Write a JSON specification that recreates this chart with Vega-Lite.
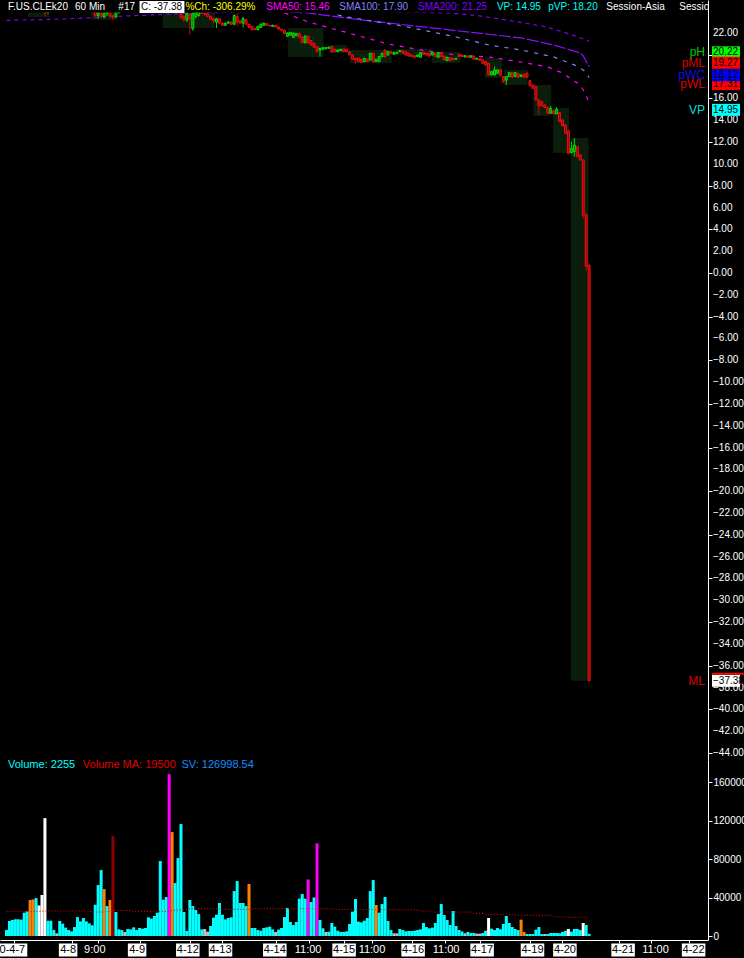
{
"$schema": "https://vega.github.io/schema/vega-lite/v6.json",
"background": "#000000",
"padding": 0,
"spacing": 0,
"bounds": "flush",
"config": {"view": {"stroke": null}, "font": "Liberation Sans", "axis": {"labelFont": "Liberation Sans", "grid": false, "labelOverlap": false, "labelSeparation": 0}},
"resolve": {"scale": {"x": "independent", "y": "independent", "fill": "independent", "color": "independent", "stroke": "independent", "strokeDash": "independent"}},
"datasets": {
"bars": [
{"i":0,"o":24.30,"h":24.50,"l":24.22,"c":24.42,"v":6200,"s":"n"},
{"i":1,"o":24.42,"h":24.55,"l":24.30,"c":24.35,"v":15600,"s":"n"},
{"i":2,"o":24.35,"h":24.48,"l":24.25,"c":24.45,"v":16600,"s":"n"},
{"i":3,"o":24.45,"h":24.60,"l":24.38,"c":24.52,"v":17300,"s":"n"},
{"i":4,"o":24.52,"h":24.62,"l":24.40,"c":24.44,"v":17300,"s":"n"},
{"i":5,"o":24.44,"h":24.50,"l":24.30,"c":24.34,"v":17000,"s":"n"},
{"i":6,"o":24.34,"h":24.40,"l":24.05,"c":24.12,"v":24200,"s":"n"},
{"i":7,"o":24.12,"h":24.25,"l":23.95,"c":24.20,"v":25600,"s":"n"},
{"i":8,"o":24.20,"h":24.35,"l":24.10,"c":24.30,"v":37400,"s":"o"},
{"i":9,"o":24.30,"h":24.40,"l":24.15,"c":24.18,"v":38000,"s":"o"},
{"i":10,"o":24.18,"h":24.28,"l":24.05,"c":24.25,"v":39400,"s":"n"},
{"i":11,"o":24.25,"h":24.45,"l":24.20,"c":24.40,"v":31800,"s":"w"},
{"i":12,"o":24.40,"h":24.52,"l":24.10,"c":24.15,"v":42600,"s":"w"},
{"i":13,"o":24.15,"h":24.20,"l":23.50,"c":23.85,"v":122500,"s":"w"},
{"i":14,"o":23.85,"h":24.20,"l":23.80,"c":24.10,"v":15900,"s":"n"},
{"i":15,"o":24.10,"h":24.30,"l":24.05,"c":24.25,"v":15900,"s":"n"},
{"i":16,"o":24.25,"h":24.35,"l":24.15,"c":24.30,"v":6200,"s":"n"},
{"i":17,"o":24.30,"h":24.38,"l":24.22,"c":24.28,"v":2800,"s":"g"},
{"i":18,"o":24.28,"h":24.45,"l":24.20,"c":24.40,"v":15600,"s":"n"},
{"i":19,"o":24.40,"h":24.55,"l":24.35,"c":24.50,"v":12800,"s":"n"},
{"i":20,"o":24.50,"h":24.60,"l":24.40,"c":24.45,"v":8700,"s":"n"},
{"i":21,"o":24.45,"h":24.52,"l":24.30,"c":24.36,"v":6200,"s":"n"},
{"i":22,"o":24.36,"h":24.45,"l":24.28,"c":24.40,"v":4800,"s":"n"},
{"i":23,"o":24.40,"h":24.48,"l":24.30,"c":24.33,"v":9300,"s":"n"},
{"i":24,"o":24.33,"h":24.40,"l":24.15,"c":24.20,"v":19700,"s":"n"},
{"i":25,"o":24.20,"h":24.32,"l":24.10,"c":24.28,"v":15200,"s":"n"},
{"i":26,"o":24.28,"h":24.35,"l":24.12,"c":24.16,"v":18700,"s":"n"},
{"i":27,"o":24.16,"h":24.25,"l":24.00,"c":24.05,"v":15200,"s":"n"},
{"i":28,"o":24.05,"h":24.15,"l":23.90,"c":24.10,"v":13100,"s":"n"},
{"i":29,"o":24.10,"h":24.20,"l":23.85,"c":23.95,"v":11100,"s":"n"},
{"i":30,"o":23.95,"h":24.05,"l":23.45,"c":23.60,"v":32500,"s":"n"},
{"i":31,"o":23.60,"h":23.95,"l":23.30,"c":23.85,"v":52900,"s":"n"},
{"i":32,"o":23.85,"h":24.10,"l":23.40,"c":23.50,"v":68500,"s":"n"},
{"i":33,"o":23.50,"h":23.90,"l":23.35,"c":23.80,"v":48800,"s":"o"},
{"i":34,"o":23.80,"h":24.00,"l":23.55,"c":23.95,"v":31100,"s":"n"},
{"i":35,"o":23.95,"h":24.05,"l":23.40,"c":23.55,"v":37400,"s":"o"},
{"i":36,"o":23.55,"h":23.70,"l":23.20,"c":23.45,"v":103800,"s":"r"},
{"i":37,"o":23.45,"h":23.90,"l":23.40,"c":23.85,"v":24900,"s":"n"},
{"i":38,"o":23.85,"h":24.10,"l":23.80,"c":24.05,"v":6900,"s":"n"},
{"i":39,"o":24.05,"h":24.20,"l":23.95,"c":24.15,"v":6200,"s":"n"},
{"i":40,"o":24.15,"h":24.25,"l":24.05,"c":24.10,"v":4200,"s":"g"},
{"i":41,"o":24.10,"h":24.30,"l":24.05,"c":24.25,"v":7300,"s":"n"},
{"i":42,"o":24.25,"h":24.40,"l":24.20,"c":24.35,"v":6900,"s":"n"},
{"i":43,"o":24.35,"h":24.45,"l":24.25,"c":24.30,"v":9000,"s":"n"},
{"i":44,"o":24.30,"h":24.42,"l":24.22,"c":24.38,"v":6200,"s":"n"},
{"i":45,"o":24.38,"h":24.50,"l":24.30,"c":24.45,"v":8300,"s":"n"},
{"i":46,"o":24.45,"h":24.55,"l":24.35,"c":24.40,"v":7600,"s":"n"},
{"i":47,"o":24.40,"h":24.48,"l":24.30,"c":24.35,"v":8300,"s":"n"},
{"i":48,"o":24.35,"h":24.45,"l":24.25,"c":24.42,"v":19400,"s":"n"},
{"i":49,"o":24.42,"h":24.60,"l":24.38,"c":24.55,"v":18000,"s":"n"},
{"i":50,"o":24.55,"h":24.70,"l":24.45,"c":24.50,"v":20800,"s":"n"},
{"i":51,"o":24.50,"h":24.58,"l":24.30,"c":24.35,"v":24200,"s":"n"},
{"i":52,"o":24.35,"h":24.50,"l":24.10,"c":24.45,"v":77900,"s":"n"},
{"i":53,"o":24.45,"h":24.62,"l":24.40,"c":24.58,"v":37700,"s":"n"},
{"i":54,"o":24.58,"h":24.70,"l":24.40,"c":24.48,"v":40500,"s":"n"},
{"i":55,"o":24.48,"h":24.75,"l":24.20,"c":24.65,"v":168200,"s":"m"},
{"i":56,"o":24.65,"h":24.80,"l":24.30,"c":24.40,"v":108000,"s":"o"},
{"i":57,"o":24.40,"h":24.55,"l":24.15,"c":24.20,"v":55000,"s":"n"},
{"i":58,"o":24.20,"h":24.40,"l":23.90,"c":24.00,"v":81000,"s":"n"},
{"i":59,"o":24.00,"h":24.10,"l":23.30,"c":23.40,"v":116300,"s":"n"},
{"i":60,"o":23.50,"h":23.60,"l":23.00,"c":23.20,"v":24900,"s":"n"},
{"i":61,"o":23.20,"h":23.90,"l":23.00,"c":23.80,"v":5200,"s":"n"},
{"i":62,"o":23.70,"h":23.80,"l":21.85,"c":23.30,"v":37400,"s":"n"},
{"i":63,"o":22.40,"h":23.90,"l":22.20,"c":23.75,"v":31100,"s":"n"},
{"i":64,"o":23.50,"h":24.00,"l":23.30,"c":23.85,"v":27000,"s":"n"},
{"i":65,"o":23.60,"h":24.00,"l":23.50,"c":23.90,"v":22800,"s":"n"},
{"i":66,"o":23.90,"h":24.00,"l":23.75,"c":23.80,"v":6900,"s":"n"},
{"i":67,"o":23.80,"h":23.88,"l":23.60,"c":23.70,"v":7300,"s":"g"},
{"i":68,"o":23.75,"h":23.85,"l":23.45,"c":23.50,"v":4500,"s":"g"},
{"i":69,"o":23.50,"h":23.60,"l":23.20,"c":23.25,"v":10400,"s":"n"},
{"i":70,"o":23.30,"h":23.40,"l":22.90,"c":23.10,"v":19000,"s":"n"},
{"i":71,"o":23.00,"h":23.40,"l":22.46,"c":23.30,"v":22100,"s":"n"},
{"i":72,"o":23.30,"h":23.35,"l":22.85,"c":22.90,"v":34300,"s":"n"},
{"i":73,"o":22.90,"h":23.00,"l":22.65,"c":22.70,"v":22100,"s":"n"},
{"i":74,"o":22.70,"h":22.95,"l":22.65,"c":22.90,"v":17300,"s":"n"},
{"i":75,"o":22.90,"h":23.10,"l":22.85,"c":23.00,"v":18700,"s":"n"},
{"i":76,"o":23.00,"h":23.05,"l":22.75,"c":22.80,"v":19400,"s":"n"},
{"i":77,"o":22.80,"h":23.70,"l":22.70,"c":23.60,"v":46700,"s":"n"},
{"i":78,"o":23.50,"h":23.80,"l":22.60,"c":23.00,"v":57100,"s":"n"},
{"i":79,"o":23.10,"h":23.20,"l":22.85,"c":22.90,"v":34300,"s":"n"},
{"i":80,"o":22.90,"h":23.50,"l":22.50,"c":23.30,"v":34300,"s":"n"},
{"i":81,"o":23.20,"h":23.25,"l":22.75,"c":22.80,"v":31100,"s":"n"},
{"i":82,"o":22.80,"h":22.85,"l":22.45,"c":22.50,"v":54000,"s":"o"},
{"i":83,"o":22.60,"h":22.65,"l":22.25,"c":22.30,"v":8300,"s":"n"},
{"i":84,"o":22.40,"h":22.45,"l":22.25,"c":22.30,"v":8300,"s":"n"},
{"i":85,"o":22.30,"h":22.65,"l":22.25,"c":22.60,"v":6200,"s":"n"},
{"i":86,"o":22.50,"h":22.85,"l":22.45,"c":22.80,"v":5500,"s":"n"},
{"i":87,"o":22.70,"h":22.95,"l":22.65,"c":22.90,"v":8300,"s":"n"},
{"i":88,"o":22.85,"h":22.90,"l":22.65,"c":22.70,"v":9000,"s":"n"},
{"i":89,"o":22.70,"h":22.75,"l":22.60,"c":22.65,"v":9700,"s":"n"},
{"i":90,"o":22.60,"h":22.75,"l":22.55,"c":22.70,"v":6900,"s":"n"},
{"i":91,"o":22.70,"h":22.75,"l":22.50,"c":22.55,"v":4200,"s":"g"},
{"i":92,"o":22.55,"h":22.60,"l":22.30,"c":22.35,"v":6600,"s":"n"},
{"i":93,"o":22.35,"h":22.40,"l":22.20,"c":22.25,"v":8300,"s":"n"},
{"i":94,"o":22.25,"h":22.30,"l":21.90,"c":21.95,"v":19700,"s":"n"},
{"i":95,"o":21.70,"h":22.05,"l":21.65,"c":22.00,"v":29100,"s":"n"},
{"i":96,"o":21.80,"h":22.10,"l":21.75,"c":22.05,"v":14500,"s":"n"},
{"i":97,"o":21.60,"h":22.05,"l":21.55,"c":21.97,"v":11400,"s":"n"},
{"i":98,"o":21.75,"h":22.00,"l":21.70,"c":21.95,"v":14500,"s":"n"},
{"i":99,"o":21.97,"h":22.02,"l":21.50,"c":21.60,"v":38800,"s":"n"},
{"i":100,"o":21.60,"h":21.73,"l":21.05,"c":21.10,"v":43600,"s":"n"},
{"i":101,"o":21.10,"h":21.75,"l":21.05,"c":21.73,"v":38800,"s":"n"},
{"i":102,"o":21.70,"h":21.75,"l":21.00,"c":21.10,"v":58800,"s":"m"},
{"i":103,"o":21.30,"h":21.35,"l":20.85,"c":20.90,"v":35300,"s":"n"},
{"i":104,"o":21.05,"h":21.10,"l":20.65,"c":20.69,"v":40100,"s":"n"},
{"i":105,"o":20.75,"h":20.80,"l":20.20,"c":20.29,"v":96200,"s":"m"},
{"i":106,"o":20.44,"h":20.65,"l":19.83,"c":20.59,"v":16600,"s":"n"},
{"i":107,"o":20.50,"h":20.70,"l":20.45,"c":20.66,"v":8000,"s":"n"},
{"i":108,"o":20.55,"h":20.70,"l":20.50,"c":20.66,"v":4200,"s":"g"},
{"i":109,"o":20.60,"h":20.75,"l":20.55,"c":20.70,"v":4500,"s":"n"},
{"i":110,"o":20.75,"h":20.80,"l":20.14,"c":20.29,"v":13500,"s":"n"},
{"i":111,"o":20.50,"h":20.55,"l":20.25,"c":20.29,"v":9700,"s":"n"},
{"i":112,"o":20.29,"h":20.47,"l":20.25,"c":20.44,"v":5500,"s":"n"},
{"i":113,"o":20.38,"h":20.55,"l":20.35,"c":20.50,"v":4200,"s":"n"},
{"i":114,"o":20.53,"h":20.56,"l":20.25,"c":20.29,"v":4200,"s":"n"},
{"i":115,"o":20.50,"h":20.53,"l":20.25,"c":20.29,"v":4800,"s":"n"},
{"i":116,"o":20.29,"h":20.32,"l":19.95,"c":19.98,"v":12500,"s":"n"},
{"i":117,"o":19.98,"h":20.00,"l":19.55,"c":19.59,"v":25300,"s":"n"},
{"i":118,"o":19.68,"h":19.70,"l":19.16,"c":19.53,"v":38400,"s":"n"},
{"i":119,"o":19.68,"h":19.72,"l":19.33,"c":19.37,"v":14900,"s":"n"},
{"i":120,"o":19.59,"h":19.62,"l":19.28,"c":19.31,"v":14200,"s":"n"},
{"i":121,"o":19.37,"h":19.72,"l":19.33,"c":19.68,"v":15900,"s":"n"},
{"i":122,"o":19.59,"h":19.63,"l":19.33,"c":19.37,"v":18700,"s":"n"},
{"i":123,"o":19.53,"h":20.18,"l":19.50,"c":20.14,"v":46700,"s":"n"},
{"i":124,"o":20.14,"h":20.20,"l":19.30,"c":19.37,"v":58100,"s":"n"},
{"i":125,"o":19.37,"h":19.62,"l":19.33,"c":19.59,"v":32200,"s":"o"},
{"i":126,"o":19.37,"h":19.86,"l":19.33,"c":19.83,"v":24200,"s":"n"},
{"i":127,"o":19.83,"h":20.18,"l":19.80,"c":20.14,"v":33200,"s":"n"},
{"i":128,"o":20.44,"h":20.45,"l":19.70,"c":19.83,"v":40500,"s":"n"},
{"i":129,"o":19.98,"h":20.33,"l":19.95,"c":20.29,"v":15600,"s":"n"},
{"i":130,"o":20.29,"h":20.33,"l":20.10,"c":20.14,"v":6200,"s":"n"},
{"i":131,"o":20.04,"h":20.26,"l":20.00,"c":20.23,"v":2800,"s":"g"},
{"i":132,"o":20.14,"h":20.26,"l":20.10,"c":20.23,"v":2800,"s":"g"},
{"i":133,"o":20.29,"h":20.42,"l":20.25,"c":20.38,"v":7300,"s":"n"},
{"i":134,"o":20.35,"h":20.38,"l":20.10,"c":20.14,"v":6200,"s":"n"},
{"i":135,"o":20.29,"h":20.32,"l":19.95,"c":19.98,"v":4800,"s":"n"},
{"i":136,"o":20.14,"h":20.17,"l":19.85,"c":19.89,"v":5200,"s":"n"},
{"i":137,"o":19.98,"h":20.01,"l":19.80,"c":19.83,"v":5200,"s":"n"},
{"i":138,"o":19.92,"h":19.95,"l":19.73,"c":19.77,"v":5500,"s":"n"},
{"i":139,"o":19.83,"h":20.01,"l":19.80,"c":19.98,"v":6200,"s":"n"},
{"i":140,"o":19.77,"h":20.23,"l":19.73,"c":20.20,"v":6900,"s":"n"},
{"i":141,"o":20.23,"h":20.26,"l":20.00,"c":20.04,"v":13500,"s":"n"},
{"i":142,"o":20.14,"h":20.17,"l":19.95,"c":19.98,"v":9300,"s":"n"},
{"i":143,"o":20.14,"h":20.17,"l":19.85,"c":19.89,"v":8000,"s":"n"},
{"i":144,"o":19.98,"h":20.26,"l":19.95,"c":20.23,"v":8700,"s":"n"},
{"i":145,"o":20.14,"h":20.17,"l":19.80,"c":19.83,"v":13500,"s":"n"},
{"i":146,"o":19.77,"h":20.23,"l":19.73,"c":20.20,"v":22800,"s":"n"},
{"i":147,"o":20.20,"h":20.23,"l":19.80,"c":19.83,"v":33200,"s":"n"},
{"i":148,"o":19.89,"h":19.92,"l":19.50,"c":19.53,"v":21800,"s":"n"},
{"i":149,"o":19.46,"h":19.80,"l":19.43,"c":19.77,"v":16600,"s":"n"},
{"i":150,"o":19.74,"h":19.77,"l":19.43,"c":19.46,"v":11400,"s":"n"},
{"i":151,"o":19.68,"h":19.71,"l":19.50,"c":19.53,"v":26000,"s":"n"},
{"i":152,"o":19.60,"h":19.71,"l":19.55,"c":19.68,"v":10400,"s":"n"},
{"i":153,"o":20.04,"h":20.07,"l":19.80,"c":19.83,"v":6200,"s":"n"},
{"i":154,"o":19.95,"h":19.98,"l":19.80,"c":19.83,"v":4800,"s":"n"},
{"i":155,"o":19.80,"h":19.95,"l":19.77,"c":19.92,"v":2800,"s":"g"},
{"i":156,"o":19.89,"h":19.92,"l":19.74,"c":19.77,"v":4200,"s":"n"},
{"i":157,"o":19.77,"h":19.92,"l":19.74,"c":19.89,"v":3100,"s":"n"},
{"i":158,"o":19.89,"h":19.92,"l":19.55,"c":19.59,"v":3100,"s":"n"},
{"i":159,"o":19.59,"h":19.71,"l":19.55,"c":19.68,"v":2400,"s":"g"},
{"i":160,"o":19.62,"h":19.65,"l":19.46,"c":19.49,"v":2400,"s":"g"},
{"i":161,"o":19.53,"h":19.56,"l":19.19,"c":19.22,"v":3100,"s":"n"},
{"i":162,"o":19.37,"h":19.40,"l":19.04,"c":19.07,"v":5500,"s":"n"},
{"i":163,"o":19.22,"h":19.25,"l":18.10,"c":18.15,"v":18700,"s":"w"},
{"i":164,"o":18.15,"h":18.50,"l":18.10,"c":18.46,"v":7600,"s":"n"},
{"i":165,"o":18.15,"h":18.91,"l":18.10,"c":18.61,"v":6200,"s":"n"},
{"i":166,"o":18.30,"h":18.65,"l":18.27,"c":18.61,"v":8300,"s":"n"},
{"i":167,"o":18.61,"h":18.65,"l":18.10,"c":18.15,"v":6900,"s":"n"},
{"i":168,"o":18.00,"h":18.03,"l":17.39,"c":17.54,"v":12500,"s":"n"},
{"i":169,"o":17.69,"h":18.03,"l":17.23,"c":18.00,"v":20800,"s":"n"},
{"i":170,"o":18.00,"h":18.40,"l":17.97,"c":18.36,"v":13500,"s":"n"},
{"i":171,"o":18.36,"h":18.40,"l":17.90,"c":17.94,"v":9300,"s":"n"},
{"i":172,"o":18.00,"h":18.40,"l":17.97,"c":18.36,"v":7300,"s":"n"},
{"i":173,"o":18.30,"h":18.33,"l":17.90,"c":17.94,"v":6200,"s":"n"},
{"i":174,"o":18.00,"h":18.18,"l":17.97,"c":18.15,"v":17000,"s":"o"},
{"i":175,"o":18.21,"h":18.24,"l":17.90,"c":17.94,"v":4200,"s":"o"},
{"i":176,"o":18.30,"h":18.40,"l":17.90,"c":17.94,"v":2100,"s":"n"},
{"i":177,"o":17.63,"h":17.70,"l":17.10,"c":17.17,"v":2100,"s":"n"},
{"i":178,"o":17.23,"h":17.26,"l":16.90,"c":16.93,"v":2100,"s":"n"},
{"i":179,"o":17.08,"h":17.10,"l":15.80,"c":15.86,"v":6600,"s":"n"},
{"i":180,"o":15.86,"h":15.90,"l":14.48,"c":15.31,"v":9300,"s":"n"},
{"i":181,"o":15.71,"h":15.75,"l":15.28,"c":15.31,"v":2100,"s":"n"},
{"i":182,"o":15.40,"h":15.43,"l":15.12,"c":15.16,"v":2100,"s":"g"},
{"i":183,"o":15.16,"h":15.19,"l":14.60,"c":14.64,"v":2100,"s":"n"},
{"i":184,"o":14.64,"h":15.30,"l":14.60,"c":15.09,"v":3100,"s":"n"},
{"i":185,"o":14.85,"h":14.88,"l":14.55,"c":14.58,"v":3100,"s":"n"},
{"i":186,"o":14.58,"h":15.20,"l":14.55,"c":15.00,"v":3100,"s":"n"},
{"i":187,"o":14.70,"h":14.73,"l":13.83,"c":13.87,"v":2800,"s":"n"},
{"i":188,"o":14.03,"h":14.06,"l":13.45,"c":13.48,"v":4200,"s":"n"},
{"i":189,"o":13.57,"h":13.60,"l":12.77,"c":12.80,"v":5500,"s":"n"},
{"i":190,"o":13.02,"h":13.05,"l":10.90,"c":10.97,"v":7300,"s":"w"},
{"i":191,"o":11.03,"h":12.04,"l":10.97,"c":11.43,"v":4500,"s":"n"},
{"i":192,"o":11.12,"h":12.35,"l":10.66,"c":11.73,"v":7300,"s":"n"},
{"i":193,"o":11.58,"h":11.62,"l":10.60,"c":10.66,"v":7300,"s":"n"},
{"i":194,"o":10.82,"h":10.85,"l":10.30,"c":10.36,"v":6200,"s":"n"},
{"i":195,"o":10.36,"h":10.40,"l":5.00,"c":5.30,"v":13500,"s":"w"},
{"i":196,"o":5.30,"h":5.50,"l":0.20,"c":0.60,"v":11400,"s":"n"},
{"i":197,"o":0.70,"h":0.80,"l":-37.38,"c":-37.38,"v":2255,"s":"n"}
],
"sma": [
{"line":"SMA200","i":0,"v":23.15},{"line":"SMA200","i":20,"v":23.28},{"line":"SMA200","i":33,"v":23.47},{"line":"SMA200","i":53,"v":23.70},{"line":"SMA200","i":83,"v":23.97},{"line":"SMA200","i":116,"v":24.02},{"line":"SMA200","i":150,"v":23.83},{"line":"SMA200","i":160,"v":23.56},{"line":"SMA200","i":169,"v":23.19},{"line":"SMA200","i":181,"v":22.64},{"line":"SMA200","i":186,"v":22.27},{"line":"SMA200","i":191,"v":21.85},{"line":"SMA200","i":197,"v":21.25},
{"line":"MA","i":96,"v":23.92},{"line":"MA","i":102,"v":23.83},{"line":"MA","i":120,"v":23.19},{"line":"MA","i":141,"v":22.55},{"line":"MA","i":159,"v":22.0},{"line":"MA","i":174,"v":21.54},{"line":"MA","i":185,"v":20.9},{"line":"MA","i":194,"v":20.17},{"line":"MA","i":195,"v":19.9},{"line":"MA","i":196,"v":19.4},{"line":"MA","i":197,"v":18.9},
{"line":"SMA100","i":112,"v":23.65},{"line":"SMA100","i":115,"v":23.47},{"line":"SMA100","i":134,"v":22.64},{"line":"SMA100","i":152,"v":21.63},{"line":"SMA100","i":163,"v":20.9},{"line":"SMA100","i":174,"v":20.44},{"line":"SMA100","i":185,"v":19.8},{"line":"SMA100","i":192,"v":19.07},{"line":"SMA100","i":195,"v":18.61},{"line":"SMA100","i":196,"v":18.33},{"line":"SMA100","i":197,"v":17.90},
{"line":"SMA50","i":94,"v":23.83},{"line":"SMA50","i":102,"v":23.01},{"line":"SMA50","i":118,"v":21.82},{"line":"SMA50","i":129,"v":20.99},{"line":"SMA50","i":140,"v":20.44},{"line":"SMA50","i":152,"v":19.98},{"line":"SMA50","i":163,"v":19.80},{"line":"SMA50","i":174,"v":19.34},{"line":"SMA50","i":183,"v":18.88},{"line":"SMA50","i":188,"v":18.33},{"line":"SMA50","i":194,"v":17.23},{"line":"SMA50","i":196,"v":16.32},{"line":"SMA50","i":197,"v":15.46}
],
"vma": [
{"i":0,"ma":25600},{"i":11,"ma":25600},{"i":13,"ma":26000},{"i":27,"ma":26000},{"i":30,"ma":24900},{"i":33,"ma":24900},{"i":38,"ma":26600},{"i":42,"ma":26600},{"i":43,"ma":25600},{"i":55,"ma":25600},{"i":57,"ma":27000},{"i":60,"ma":27000},{"i":62,"ma":28400},{"i":72,"ma":28400},{"i":73,"ma":27700},{"i":83,"ma":27700},{"i":84,"ma":28400},{"i":110,"ma":28400},{"i":111,"ma":27700},{"i":123,"ma":27700},{"i":124,"ma":27300},{"i":138,"ma":27300},{"i":140,"ma":26000},{"i":143,"ma":26000},{"i":144,"ma":24900},{"i":157,"ma":24900},{"i":158,"ma":23500},{"i":161,"ma":23500},{"i":162,"ma":22500},{"i":171,"ma":22500},{"i":173,"ma":21500},{"i":184,"ma":21500},{"i":186,"ma":19700},{"i":189,"ma":19700},{"i":190,"ma":19500},{"i":197,"ma":19500}
],
"boxes": [
{"from":7.2,"to":14.5,"hi":24.6,"lo":23.47},
{"from":28.5,"to":37.2,"hi":24.4,"lo":23.2},
{"from":52.8,"to":70.5,"hi":24.9,"lo":22.46},
{"from":95.2,"to":107.2,"hi":22.46,"lo":19.8},
{"from":109.2,"to":115.2,"hi":20.9,"lo":20.17},
{"from":116.2,"to":130.2,"hi":20.44,"lo":19.25},
{"from":131.8,"to":143.8,"hi":20.53,"lo":19.98},
{"from":143.8,"to":153.5,"hi":20.26,"lo":19.25},
{"from":161.8,"to":167.5,"hi":19.7,"lo":17.88},
{"from":168.2,"to":176.2,"hi":18.6,"lo":17.23},
{"from":178.2,"to":184.2,"hi":17.23,"lo":14.4},
{"from":184.8,"to":190.2,"hi":15.13,"lo":11.0},
{"from":190.8,"to":196.8,"hi":12.37,"lo":-37.38}
],
"pticks": [
{"tick":-44},{"tick":-42},{"tick":-40},{"tick":-38},{"tick":-36},{"tick":-34},{"tick":-32},{"tick":-30},{"tick":-28},{"tick":-26},{"tick":-24},{"tick":-22},{"tick":-20},{"tick":-18},{"tick":-16},{"tick":-14},{"tick":-12},{"tick":-10},{"tick":-8},{"tick":-6},{"tick":-4},{"tick":-2},{"tick":0},{"tick":2},{"tick":4},{"tick":6},{"tick":8},{"tick":10},{"tick":12},{"tick":14},{"tick":16},{"tick":18},{"tick":20},{"tick":22}
],
"tags": [
{"tag":"pH","price":20.22},{"tag":"pML","price":19.27},{"tag":"pWL","price":17.31},{"tag":"pWC","price":18.12},{"tag":"VP","price":14.95},{"tag":"ML","price":-37.38}
],
"xlabels": [
{"bar":2.6,"label":"20-4-7","kind":"date"},{"bar":22.2,"label":"4-8","kind":"date"},{"bar":31.1,"label":"9:00","kind":"time"},{"bar":45.2,"label":"4-9","kind":"date"},{"bar":62.1,"label":"4-12","kind":"date"},{"bar":73,"label":"4-13","kind":"date"},{"bar":91.1,"label":"4-14","kind":"date"},{"bar":102.2,"label":"11:00","kind":"time"},{"bar":114.2,"label":"4-15","kind":"date"},{"bar":123.5,"label":"11:00","kind":"time"},{"bar":137.2,"label":"4-16","kind":"date"},{"bar":148.2,"label":"11:00","kind":"time"},{"bar":160.2,"label":"4-17","kind":"date"},{"bar":177,"label":"4-19","kind":"date"},{"bar":187.8,"label":"4-20","kind":"date"},{"bar":207.2,"label":"4-21","kind":"date"},{"bar":218,"label":"11:00","kind":"time"},{"bar":230.7,"label":"4-22","kind":"date"}
]
},
"vconcat": [
{
"width": 708, "height": 760,
"layer": [
{"data": {"name": "boxes"}, "mark": {"type": "rect", "color": "#0b1d0b"},
 "encoding": {
  "x": {"field": "from", "type": "quantitative", "scale": {"domain": [-0.5, 235.5], "nice": false, "zero": false}, "axis": null},
  "x2": {"field": "to"},
  "y": {"field": "hi", "type": "quantitative", "title": null, "scale": {"domain": [-44.64, 25.02], "nice": false, "zero": false},
        "axis": {"orient": "right", "title": null, "values": [-44,-42,-40,-38,-36,-34,-32,-30,-28,-26,-24,-22,-20,-18,-16,-14,-12,-10,-8,-6,-4,-2,0,2,4,6,8,10,12,14,16,18,20,22], "labels": false, "tickColor": "#ffffff", "tickSize": 4, "domainColor": "#ffffff", "grid": false}},
  "y2": {"field": "lo"}}},
{"data": {"name": "sma"}, "mark": {"type": "line", "strokeWidth": 1.2},
 "encoding": {
  "x": {"field": "i", "type": "quantitative", "axis": null},
  "y": {"field": "v", "type": "quantitative", "title": null},
  "stroke": {"field": "line", "type": "nominal", "scale": {"domain": ["SMA200","MA","SMA100","SMA50"], "range": ["#7a00f0","#8a10ff","#8080ff","#ff00ff"]}, "legend": null},
  "strokeDash": {"field": "line", "type": "nominal", "scale": {"domain": ["SMA200","MA","SMA100","SMA50"], "range": [[4,4],[12,2],[4,6],[4,6]]}, "legend": null}}},
{"data": {"name": "bars"}, "mark": {"type": "rule", "strokeWidth": 1},
 "encoding": {
  "x": {"field": "i", "type": "quantitative", "axis": null},
  "y": {"field": "l", "type": "quantitative", "title": null},
  "y2": {"field": "h"},
  "color": {"condition": {"test": "datum.c >= datum.o", "value": "#00e000"}, "value": "#e00000"}}},
{"data": {"name": "bars"}, "mark": {"type": "bar", "size": 2, "strokeWidth": 1},
 "encoding": {
  "x": {"field": "i", "type": "quantitative", "axis": null},
  "y": {"field": "o", "type": "quantitative", "title": null},
  "y2": {"field": "c"},
  "fill": {"condition": {"test": "datum.c >= datum.o", "value": "#008000"}, "value": "#a00000"},
  "stroke": {"condition": {"test": "datum.c >= datum.o", "value": "#00e000"}, "value": "#e81010"}}},
{"data": {"values": [{}]}, "mark": {"type": "rect", "color": "#000000"},
 "encoding": {"x": {"datum": -0.5, "type": "quantitative", "axis": null}, "x2": {"datum": 235.5}, "y": {"datum": 25.02, "type": "quantitative", "title": null}, "y2": {"datum": 23.88}}},
{"data": {"values": [{}]}, "mark": {"type": "text", "text": "F.US.CLEk20", "align": "left", "baseline": "middle", "fontSize": 10, "color": "#ffffff"},
 "encoding": {"x": {"datum": 0.5, "type": "quantitative", "axis": null}, "y": {"datum": 24.38, "type": "quantitative", "title": null}}},
{"data": {"values": [{}]}, "mark": {"type": "text", "text": "60 Min", "align": "left", "baseline": "middle", "fontSize": 10, "color": "#ffffff"},
 "encoding": {"x": {"datum": 23.17, "type": "quantitative", "axis": null}, "y": {"datum": 24.38, "type": "quantitative", "title": null}}},
{"data": {"values": [{}]}, "mark": {"type": "text", "text": "#17", "align": "left", "baseline": "middle", "fontSize": 10, "color": "#ffffff"},
 "encoding": {"x": {"datum": 37.83, "type": "quantitative", "axis": null}, "y": {"datum": 24.38, "type": "quantitative", "title": null}}},
{"data": {"values": [{}]}, "mark": {"type": "rect", "color": "#ffffff"},
 "encoding": {"x": {"datum": 45.0, "type": "quantitative", "axis": null}, "x2": {"datum": 60.17}, "y": {"datum": 24.93, "type": "quantitative", "title": null}, "y2": {"datum": 23.83}}},
{"data": {"values": [{}]}, "mark": {"type": "text", "text": "C: -37.38", "align": "left", "baseline": "middle", "fontSize": 10, "color": "#000000"},
 "encoding": {"x": {"datum": 45.5, "type": "quantitative", "axis": null}, "y": {"datum": 24.38, "type": "quantitative", "title": null}}},
{"data": {"values": [{}]}, "mark": {"type": "text", "text": "%Ch: -306.29%", "align": "left", "baseline": "middle", "fontSize": 10, "color": "#ffff00"},
 "encoding": {"x": {"datum": 60.5, "type": "quantitative", "axis": null}, "y": {"datum": 24.38, "type": "quantitative", "title": null}}},
{"data": {"values": [{}]}, "mark": {"type": "text", "text": "SMA50: 15.46", "align": "left", "baseline": "middle", "fontSize": 10, "color": "#ff00ff"},
 "encoding": {"x": {"datum": 87.83, "type": "quantitative", "axis": null}, "y": {"datum": 24.38, "type": "quantitative", "title": null}}},
{"data": {"values": [{}]}, "mark": {"type": "text", "text": "SMA100: 17.90", "align": "left", "baseline": "middle", "fontSize": 10, "color": "#8080ff"},
 "encoding": {"x": {"datum": 112.5, "type": "quantitative", "axis": null}, "y": {"datum": 24.38, "type": "quantitative", "title": null}}},
{"data": {"values": [{}]}, "mark": {"type": "text", "text": "SMA200: 21.25", "align": "left", "baseline": "middle", "fontSize": 10, "color": "#8000ff"},
 "encoding": {"x": {"datum": 139.17, "type": "quantitative", "axis": null}, "y": {"datum": 24.38, "type": "quantitative", "title": null}}},
{"data": {"values": [{}]}, "mark": {"type": "text", "text": "VP: 14.95", "align": "left", "baseline": "middle", "fontSize": 10, "color": "#00ffff"},
 "encoding": {"x": {"datum": 165.83, "type": "quantitative", "axis": null}, "y": {"datum": 24.38, "type": "quantitative", "title": null}}},
{"data": {"values": [{}]}, "mark": {"type": "text", "text": "pVP: 18.20", "align": "left", "baseline": "middle", "fontSize": 10, "color": "#00ffff"},
 "encoding": {"x": {"datum": 183.17, "type": "quantitative", "axis": null}, "y": {"datum": 24.38, "type": "quantitative", "title": null}}},
{"data": {"values": [{}]}, "mark": {"type": "text", "text": "Session-Asia", "align": "left", "baseline": "middle", "fontSize": 10, "color": "#ffffff"},
 "encoding": {"x": {"datum": 202.83, "type": "quantitative", "axis": null}, "y": {"datum": 24.38, "type": "quantitative", "title": null}}},
{"data": {"values": [{}]}, "mark": {"type": "text", "text": "Session-Europe", "align": "left", "baseline": "middle", "fontSize": 10, "color": "#ffffff", "clip": true},
 "encoding": {"x": {"datum": 227.5, "type": "quantitative", "axis": null}, "y": {"datum": 24.38, "type": "quantitative", "title": null}}},
{"data": {"name": "pticks"}, "mark": {"type": "text", "xOffset": 5, "align": "left", "baseline": "middle", "fontSize": 10, "color": "#ffffff"},
 "encoding": {"x": {"value": "width"}, "y": {"field": "tick", "type": "quantitative", "title": null}, "text": {"field": "tick", "type": "quantitative", "format": ".2f"}}},
{"data": {"name": "tags"}, "mark": {"type": "rect", "xOffset": 4, "x2Offset": 32, "yOffset": -6, "y2Offset": 6},
 "encoding": {
  "x": {"value": "width"}, "x2": {"value": "width"},
  "y": {"field": "price", "type": "quantitative", "title": null}, "y2": {"field": "price"},
  "fill": {"field": "tag", "type": "nominal", "scale": {"domain": ["pH","pML","pWC","pWL","VP","ML"], "range": ["#00ff00","#ff0000","#0000ff","#ff0000","#00ffff","#ffffff"]}, "legend": null}}},
{"data": {"name": "tags"}, "transform": [{"filter": "datum.tag == 'ML'"}], "mark": {"type": "rule", "color": "#ff0000", "strokeWidth": 2, "xOffset": 4, "x2Offset": 40, "yOffset": -7},
 "encoding": {"x": {"value": "width"}, "x2": {"value": "width"}, "y": {"field": "price", "type": "quantitative", "title": null}}},
{"data": {"name": "tags"}, "mark": {"type": "text", "xOffset": 5, "align": "left", "baseline": "middle", "fontSize": 10, "color": "#000000"},
 "encoding": {"x": {"value": "width"}, "y": {"field": "price", "type": "quantitative", "title": null}, "text": {"field": "price", "type": "quantitative", "format": ".2f"}}},
{"data": {"name": "tags"}, "mark": {"type": "text", "xOffset": -3, "align": "right", "baseline": "middle", "fontSize": 12},
 "encoding": {"x": {"value": "width"}, "y": {"field": "price", "type": "quantitative", "title": null}, "text": {"field": "tag"},
  "color": {"field": "tag", "type": "nominal", "scale": {"domain": ["pH","pML","pWC","pWL","VP","ML"], "range": ["#00c800","#dd0000","#1010e0","#dd0000","#00dddd","#dd0000"]}, "legend": null}}}
]
},
{
"width": 708, "height": 180,
"layer": [
{"data": {"name": "bars"}, "mark": {"type": "bar", "size": 3},
 "encoding": {
  "x": {"field": "i", "type": "quantitative", "scale": {"domain": [-0.5, 235.5], "nice": false, "zero": false},
        "axis": {"orient": "bottom", "title": null, "values": [2.6,22.2,31.1,45.2,62.1,73,91.1,102.2,114.2,123.5,137.2,148.2,160.2,177,187.8,207.2,218,230.7], "labels": false, "ticks": true, "tickSize": 3, "tickColor": "#ffffff", "domainColor": "#ffffff", "grid": false}},
  "y": {"field": "v", "type": "quantitative", "title": null, "scale": {"domain": [-4156, 182900], "nice": false, "zero": false},
        "axis": {"orient": "right", "title": null, "values": [0, 40000, 80000, 120000, 160000], "format": "d", "labelColor": "#ffffff", "labelFontSize": 10, "tickColor": "#ffffff", "tickSize": 4, "domainColor": "#ffffff", "labelPadding": 1, "grid": false, "labelBound": false}},
  "y2": {"datum": 0},
  "fill": {"field": "s", "type": "nominal", "scale": {"domain": ["n","o","w","m","r","g"], "range": ["#00ffff","#ff8000","#ffffff","#ff00ff","#8b0000","#c0c0c0"]}, "legend": null}}},
{"data": {"name": "vma"}, "mark": {"type": "line", "color": "#ff0000", "strokeWidth": 1, "strokeDash": [1, 2]},
 "encoding": {"x": {"field": "i", "type": "quantitative"}, "y": {"field": "ma", "type": "quantitative", "title": null}}},
{"data": {"values": [{}]}, "mark": {"type": "text", "text": "Volume: 2255", "align": "left", "baseline": "middle", "fontSize": 11, "color": "#00ffff"},
 "encoding": {"x": {"datum": 0.5, "type": "quantitative"}, "y": {"datum": 177700, "type": "quantitative", "title": null}}},
{"data": {"values": [{}]}, "mark": {"type": "text", "text": "Volume MA: 19500", "align": "left", "baseline": "middle", "fontSize": 11, "color": "#e00000"},
 "encoding": {"x": {"datum": 25.83, "type": "quantitative"}, "y": {"datum": 177700, "type": "quantitative", "title": null}}},
{"data": {"values": [{}]}, "mark": {"type": "text", "text": "SV: 126998.54", "align": "left", "baseline": "middle", "fontSize": 11, "color": "#1a8cff"},
 "encoding": {"x": {"datum": 59.17, "type": "quantitative"}, "y": {"datum": 177700, "type": "quantitative", "title": null}}}
]
},
{
"width": 708, "height": 20,
"data": {"name": "xlabels"},
"layer": [
{"transform": [{"filter": "datum.kind == 'date' && length(datum.label) == 3"}],
 "mark": {"type": "point", "filled": true, "opacity": 1, "color": "#ffffff", "strokeWidth": 0, "size": 2304, "shape": "M-0.385,-0.271H0.385V0.271H-0.385Z", "clip": true},
 "encoding": {"x": {"field": "bar", "type": "quantitative", "scale": {"domain": [-0.5, 235.5], "nice": false, "zero": false}, "axis": null}}},
{"transform": [{"filter": "datum.kind == 'date' && length(datum.label) == 4"}],
 "mark": {"type": "point", "filled": true, "opacity": 1, "color": "#ffffff", "strokeWidth": 0, "size": 2304, "shape": "M-0.49,-0.271H0.49V0.271H-0.49Z", "clip": true},
 "encoding": {"x": {"field": "bar", "type": "quantitative", "axis": null}}},
{"transform": [{"filter": "datum.kind == 'date' && length(datum.label) > 4"}],
 "mark": {"type": "point", "filled": true, "opacity": 1, "color": "#ffffff", "strokeWidth": 0, "size": 2304, "shape": "M-0.75,-0.271H0.75V0.271H-0.75Z", "clip": true},
 "encoding": {"x": {"field": "bar", "type": "quantitative", "axis": null}}},
{"mark": {"type": "text", "fontSize": 11, "baseline": "middle", "align": "center", "clip": true},
 "encoding": {"x": {"field": "bar", "type": "quantitative", "axis": null}, "text": {"field": "label"},
  "color": {"field": "kind", "type": "nominal", "scale": {"domain": ["date","time"], "range": ["#000000","#ffffff"]}, "legend": null}}}
]
}
]
}
